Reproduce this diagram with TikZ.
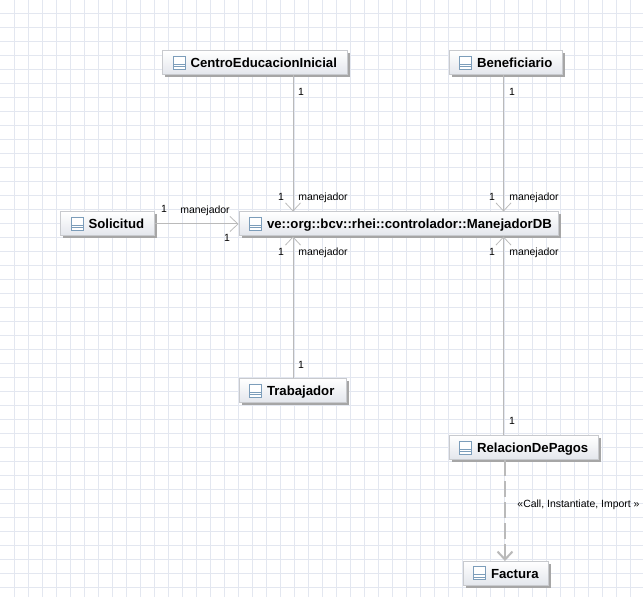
\documentclass[tikz,border=0pt]{standalone}
\usepackage{fontspec}
\setmainfont{Liberation Sans}
\usepackage{xcolor}
\usetikzlibrary{positioning, arrows.meta, calc, shadows}
\definecolor{gridgray}{HTML}{E3E7F0}
\definecolor{boxedge}{HTML}{C8CACE}
\definecolor{boxshade}{HTML}{E3E6EC}
\definecolor{wiregray}{HTML}{BABABA}
\definecolor{icongray}{HTML}{7C9DBA}
\tikzset{
    gridline/.style={gridgray, line width=0.02cm},
    classbox/.style={draw=boxedge, line width=0.02cm, top color=white, bottom color=boxshade,
        minimum height=0.48cm, inner sep=0pt, align=left, text height=0.2cm, text depth=0pt,
        font=\fontsize{7.5}{9}\selectfont\bfseries,
        drop shadow={shadow xshift=0.05cm, shadow yshift=-0.05cm, fill=black!35, opacity=1},
        execute at begin node={\hspace*{0.56cm}}},
    tagtext/.style={font=\fontsize{5.95}{7}\selectfont, inner sep=0pt},
    iconline/.style={icongray, line width=0.02cm},
    assoc/.style={wiregray, line width=0.02cm, -{Straight Barb[length=0.16cm, width=0.3cm, line width=0.015cm]}},
    depend/.style={wiregray, line width=0.05cm, dash pattern=on 0.32cm off 0.1cm,
        -{Straight Barb[length=0.16cm, width=0.3cm, line width=0.04cm]}}
}
\begin{document}
\begin{tikzpicture}[x=0.02cm, y=-0.02cm]
        \useasboundingbox (0, 0) rectangle (643, 597);
        \fill[white] (0, 0) rectangle (643, 597);

        % Background grid
        \foreach \gridx in {14, 28, ..., 630}
            \draw[gridline] (\gridx, 0) -- (\gridx, 597);
        \foreach \gridy in {14, 28, ..., 588}
            \draw[gridline] (0, \gridy) -- (643, \gridy);

        \node[classbox, text width=3.7cm]  (centro)       at (255, 63)    {CentroEducacionInicial};
        \node[classbox, text width=2.28cm] (beneficiario) at (506, 63)    {Beneficiario};
        \node[classbox, text width=1.88cm] (solicitud)    at (107.5, 224) {Solicitud};
        \node[classbox, text width=6.4cm]  (manejador)    at (399, 224)   {ve::org::bcv::rhei::controlador::ManejadorDB};
        \node[classbox, text width=2.16cm] (trabajador)   at (293, 391)   {Trabajador};
        \node[classbox, text width=3cm]    (relacion)     at (524, 448)   {RelacionDePagos};
        \node[classbox, text width=1.72cm] (factura)      at (506, 573.5) {Factura};

        % Class icons
        \foreach \boxname in {centro, beneficiario, solicitud, manejador, trabajador, relacion, factura} {
            \draw[iconline, fill=white] ($(\boxname.west)+(11, -6.5)$) rectangle ++(12, 13);
            \draw[iconline] ($(\boxname.west)+(11, 1.5)$) -- ++(12, 0);
            \draw[iconline] ($(\boxname.west)+(11, 4)$) -- ++(12, 0);
        }

        \coordinate (colA) at (293, 0);
        \coordinate (colB) at (503.5, 0);
        \coordinate (colC) at (505, 0);

        \draw[assoc] (colA |- centro.south) -- (colA |- manejador.north);
        \draw[assoc] (colB |- beneficiario.south) -- (colB |- manejador.north);
        \draw[assoc] (solicitud.east) -- (solicitud.east -| manejador.west);
        \draw[assoc] (colA |- trabajador.north) -- (colA |- manejador.south);
        \draw[assoc] (colB |- relacion.north) -- (colB |- manejador.south);
        \draw[depend] (colC |- relacion.south) -- (colC |- factura.north);

        % Role names and multiplicities
        \node[tagtext] (m1) at (301, 91.5)  {1};
        \node[tagtext] (m2) at (281, 196.5) {1};
        \node[tagtext] (r1) at (323, 197.5) {manejador};
        \node[tagtext] (m3) at (512, 91.5)  {1};
        \node[tagtext] (m4) at (492, 196.5) {1};
        \node[tagtext] (r2) at (534, 197.5) {manejador};
        \node[tagtext] (m5) at (164, 208.5) {1};
        \node[tagtext] (r3) at (205, 210.5) {manejador};
        \node[tagtext] (m6) at (227, 237.5) {1};
        \node[tagtext] (m7) at (281, 251.5) {1};
        \node[tagtext] (r4) at (323, 252.5) {manejador};
        \node[tagtext] (m8) at (492, 251.5) {1};
        \node[tagtext] (r5) at (534, 252.5) {manejador};
        \node[tagtext] (m9) at (301, 364.5) {1};
        \node[tagtext] (m10) at (512, 420.5) {1};
        \node[tagtext] (stereo) at (578.5, 504.5) {«Call, Instantiate, Import »};
    \end{tikzpicture}
\end{document}
